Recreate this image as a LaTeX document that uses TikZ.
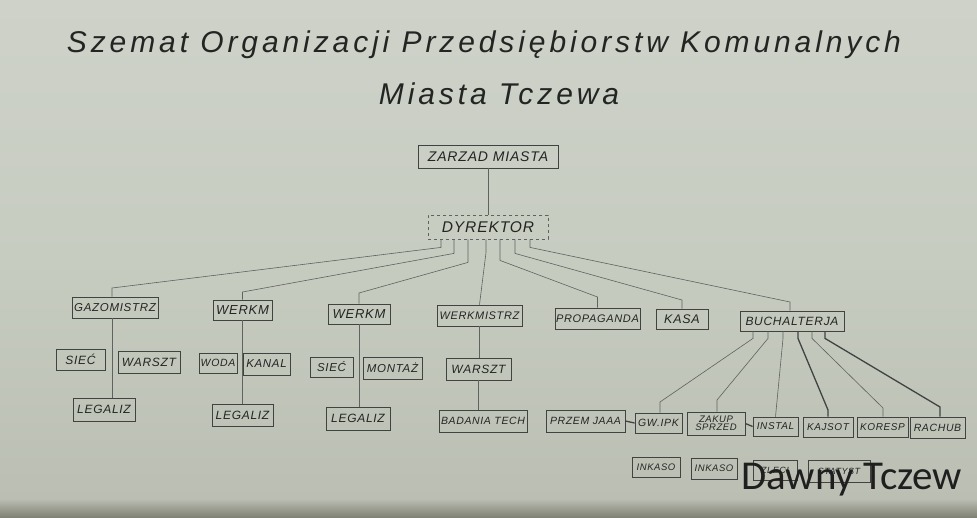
\documentclass[tikz,border=0pt]{standalone}
\usepackage{fontspec}
\newfontfamily\hand[LetterSpace=6]{Liberation Sans}
\newfontfamily\titlefont[LetterSpace=13]{Liberation Sans}
\newfontfamily\wmfont{Carlito}
\definecolor{papertop}{RGB}{206,210,201}
\definecolor{papermid}{RGB}{199,204,193}
\definecolor{paperbot}{RGB}{186,190,178}
\definecolor{edge}{RGB}{130,130,118}
\definecolor{ink}{RGB}{35,37,35}
\definecolor{boxc}{RGB}{65,67,65}
\definecolor{linec}{RGB}{95,98,95}
\tikzset{
  box/.style={draw=boxc, line width=0.8pt, inner sep=0pt, text=ink, align=center,
    font=\hand\itshape\fontsize{#1}{#1}\selectfont},
  box/.default=10,
  conn/.style={draw=linec, line width=0.6pt},
  heavy/.style={draw=boxc, line width=1.3pt},
}
\begin{document}
\begin{tikzpicture}[x=1pt,y=-1pt]
\useasboundingbox (0,0) rectangle (977,517);
\shade[top color=papertop, bottom color=paperbot, middle color=papermid] (0,0) rectangle (977,517);
\shade[top color=paperbot, bottom color=edge] (0,499) rectangle (977,517);

% title
\node[text=ink, font=\titlefont\itshape\fontsize{30}{30}\selectfont, anchor=base] (t1) at (484,52)
  {Szemat Organizacji Przedsiębiorstw Komunalnych};
\node[text=ink, font=\titlefont\itshape\fontsize{30}{30}\selectfont, anchor=base] (t2) at (499,104)
  {Miasta Tczewa};

% level 0/1
\node[box=14, minimum width=140, minimum height=23] (zarzad) at (488,156.5) {ZARZAD MIASTA};
\node[box=15.5, draw=linec, dashed, minimum width=120, minimum height=24] (dyr) at (488,227) {DYREKTOR};

% level 2
\node[box=11.5, minimum width=86, minimum height=21] (gaz) at (115,307.5) {GAZOMISTRZ};
\node[box=13, minimum width=59, minimum height=20] (wk1) at (242.5,310) {WERKM};
\node[box=13, minimum width=62, minimum height=20] (wk2) at (359,314) {WERKM};
\node[box=11, minimum width=85, minimum height=21] (wkm) at (479.5,315.5) {WERKMISTRZ};
\node[box=11, minimum width=85, minimum height=21] (prop) at (597.5,318.5) {PROPAGANDA};
\node[box=12.5, minimum width=52, minimum height=20] (kasa) at (682,319) {KASA};
\node[box=12, minimum width=104, minimum height=20] (buch) at (792,321) {BUCHALTERJA};

% level 3 left
\node[box=12, minimum width=49, minimum height=21] (sie1) at (80.5,359.5) {SIEĆ};
\node[box=12, minimum width=62, minimum height=22] (war1) at (149,362) {WARSZT};
\node[box=12, minimum width=62, minimum height=23] (leg1) at (104,409.5) {LEGALIZ};
\node[box=10.5, minimum width=38, minimum height=20] (woda) at (218,363) {WODA};
\node[box=11.5, minimum width=47, minimum height=22] (kanal) at (266.5,364) {KANAL};
\node[box=12, minimum width=61, minimum height=22] (leg2) at (242.5,415) {LEGALIZ};
\node[box=11.5, minimum width=43, minimum height=20] (sie2) at (331.5,367) {SIEĆ};
\node[box=11.5, minimum width=59, minimum height=22] (mont) at (392.5,368) {MONTAŻ};
\node[box=12, minimum width=64, minimum height=23] (leg3) at (358,418.5) {LEGALIZ};
\node[box=12, minimum width=65, minimum height=22] (war2) at (478.5,369) {WARSZT};
\node[box=10.5, minimum width=88, minimum height=22] (bad) at (483,421) {BADANIA TECH};

% buchalterja children
\node[box=10.5, minimum width=79, minimum height=22] (przem) at (585.5,421) {PRZEM JAAA};
\node[box=10.5, minimum width=47, minimum height=20] (gwipk) at (658.5,423) {GW.IPK};
\node[box=9.5, minimum width=58, minimum height=23] (zakup) at (716,423.5) {ZAKUP\\[-1.5pt]SPRZED};
\node[box=10, minimum width=45, minimum height=19] (instal) at (775.5,426.5) {INSTAL};
\node[box=10, minimum width=50, minimum height=20] (kajs) at (828,427) {KAJSOT};
\node[box=10, minimum width=51, minimum height=20] (kor) at (882.5,427) {KORESP};
\node[box=10.5, minimum width=55, minimum height=21] (rach) at (937.5,427.5) {RACHUB};
\node[box=9.5, minimum width=48, minimum height=20] (ink1) at (656,467) {INKASO};
\node[box=9.5, minimum width=46, minimum height=21] (ink2) at (714,468.5) {INKASO};
\node[box=9, minimum width=44, minimum height=20] (zlec) at (775,470) {ZLECI};
\node[box=9, minimum width=62, minimum height=22] (stat) at (839,471) {STATYST};

% connectors top
\draw[conn] (zarzad.south) -- (dyr.north);
\coordinate (g1) at (112,288);
\coordinate (g2) at (242.5,292);
\coordinate (g3) at (359,293);
\coordinate (g5) at (597.5,297);
\coordinate (g6) at (682,300);
\coordinate (g7) at (790,302);
\draw[conn] ([xshift=-47]dyr.south) -- ++(0,8) -- (g1) -- (g1 |- gaz.north);
\draw[conn] ([xshift=-34]dyr.south) -- ++(0,14) -- (g2) -- (wk1.north);
\draw[conn] ([xshift=-20]dyr.south) -- ++(0,23) -- (g3) -- (wk2.north);
\draw[conn] ([xshift=-2]dyr.south) -- ++(0,13) -- (wkm.north);
\draw[conn] ([xshift=12]dyr.south) -- ++(0,21) -- (g5) -- (prop.north);
\draw[conn] ([xshift=27]dyr.south) -- ++(0,14) -- (g6) -- (kasa.north);
\draw[conn] ([xshift=42]dyr.south) -- ++(0,8) -- (g7) -- (g7 |- buch.north);

% columns
\draw[conn] ([xshift=-3]gaz.south) -- ([xshift=-3]gaz.south |- leg1.north);
\draw[conn] (wk1.south) -- (leg2.north);
\draw[conn] (wk2.south) -- (wk2.south |- leg3.north);
\draw[conn] (wkm.south) -- (wkm.south |- war2.north);
\draw[conn] (war2.south) -- (war2.south |- bad.north);

% buchalterja connectors
\coordinate (h1) at (660,402);
\coordinate (h2) at (717,400);
\coordinate (h4) at (828,410);
\coordinate (h5) at (883,408);
\coordinate (h6) at (940,407);
\draw[conn] ([xshift=-39]buch.south) -- ++(0,7) -- (h1) -- (h1 |- gwipk.north);
\draw[conn] ([xshift=-24]buch.south) -- ++(0,7) -- (h2) -- (h2 |- zakup.north);
\draw[conn] ([xshift=-9]buch.south) -- ++(0,7) -- (instal.north);
\draw[heavy] ([xshift=6]buch.south) -- ++(0,7) -- (h4) -- (kajs.north);
\draw[conn] ([xshift=20]buch.south) -- ++(0,7) -- (h5) -- (h5 |- kor.north);
\draw[heavy] ([xshift=33]buch.south) -- ++(0,7) -- (h6) -- (h6 |- rach.north);
\draw[heavy] (przem.east) -- (gwipk.west);
\draw[heavy] (zakup.east) -- (instal.west);

% watermark
\node[text=black!88, font=\wmfont\fontsize{41}{41}\selectfont, anchor=base west, inner sep=0pt] (wm) at (741,489) {Dawny Tczew};
\end{tikzpicture}
\end{document}
